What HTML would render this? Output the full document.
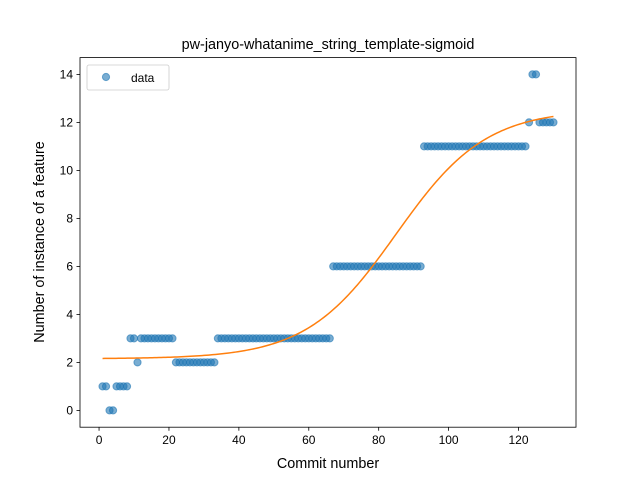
<!DOCTYPE html>
<html><head><meta charset="utf-8"><style>
body{margin:0;background:#fff}
svg text{font-family:"Liberation Sans","DejaVu Sans",sans-serif;fill:#000}
</style></head><body>
<svg id="chart" width="640" height="480" viewBox="0 0 640 480" xmlns="http://www.w3.org/2000/svg">
<rect x="0" y="0" width="640" height="480" fill="#fff"/>
<text x="328" y="49" text-anchor="middle" font-size="14.4">pw-janyo-whatanime_string_template-sigmoid</text>
<g id="plot"></g>
<rect x="80" y="57.6" width="496" height="369.6" fill="none" stroke="#000" stroke-width="0.8"/>
<g id="axes"></g>
<text x="328" y="468" text-anchor="middle" font-size="14.4">Commit number</text>
<text transform="translate(44,242) rotate(-90)" text-anchor="middle" font-size="14.4">Number of instance of a feature</text>
<g>
<rect x="87" y="65" width="82" height="25" rx="2" fill="#fff" fill-opacity="0.8" stroke="#ccc" stroke-width="0.8"/>
<circle cx="106" cy="77" r="3.6" fill="#1f77b4" fill-opacity="0.6" stroke="#1f77b4" stroke-opacity="0.6"/>
<text x="131" y="82" font-size="12">data</text>
</g>
</svg>
<script>
const yValues = [1,1,0,0,1,1,1,1,3,3,2,3,3,3,3,3,3,3,3,3,3,2,2,2,2,2,2,2,2,2,2,2,2,
3,3,3,3,3,3,3,3,3,3,3,3,3,3,3,3,3,3,3,3,3,3,3,3,3,3,3,3,3,3,3,3,3,
6,6,6,6,6,6,6,6,6,6,6,6,6,6,6,6,6,6,6,6,6,6,6,6,6,6,
11,11,11,11,11,11,11,11,11,11,11,11,11,11,11,11,11,11,11,11,11,11,11,11,11,11,11,11,11,11,
12,14,14,12,12,12,12,12];
const sigmoidParams = [10.4, 0.078, 85, 2.15]; // L, k, x0, b
const xTicks = [0,20,40,60,80,100,120];
const yTicks = [0,2,4,6,8,10,12,14];
const ns="http://www.w3.org/2000/svg";
const X0=80,X1=576,Y0=427.2,Y1=57.6;
const n=yValues.length;
const xmin=1-(n-1)*0.05, xmax=n+(n-1)*0.05;
const ymaxD=Math.max(...yValues), yminD=Math.min(...yValues);
const ymin=yminD-(ymaxD-yminD)*0.05, ymax=ymaxD+(ymaxD-yminD)*0.05;
const sx=v=>X0+(v-xmin)/(xmax-xmin)*(X1-X0);
const sy=v=>Y0-(v-ymin)/(ymax-ymin)*(Y0-Y1);
const plot=document.getElementById('plot'), axes=document.getElementById('axes');
function mk(t,a,p){const e=document.createElementNS(ns,t);for(const k in a)e.setAttribute(k,a[k]);p.appendChild(e);return e;}
yValues.forEach((v,i)=>{
 const c=mk('circle',{cx:sx(i+1),cy:sy(v),r:3.6,fill:'#1f77b4','fill-opacity':0.6,stroke:'#1f77b4','stroke-opacity':0.6,'stroke-width':1},plot);
 
 
});
const [L,k,x0,b]=sigmoidParams;
let d='';
for(let j=0;j<=200;j++){const x=1+(n-1)*j/200;const y=L/(1+Math.exp(-k*(x-x0)))+b;d+=(j?'L':'M')+sx(x).toFixed(2)+','+sy(y).toFixed(2);}
const line=mk('path',{d:d,fill:'none',stroke:'#ff7f0e','stroke-width':1.5},plot);


xTicks.forEach(t=>{
 const x=sx(t);
 mk('line',{x1:x,x2:x,y1:Y0,y2:Y0+3.5,stroke:'#000','stroke-width':0.8},axes);
 const tx=mk('text',{x:x,y:Y0+17,'text-anchor':'middle','font-size':12},axes);tx.textContent=t;
 
 
});
yTicks.forEach(t=>{
 const y=sy(t);
 mk('line',{x1:X0-3.5,x2:X0,y1:y,y2:y,stroke:'#000','stroke-width':0.8},axes);
 const tx=mk('text',{x:X0-7,y:y+4.3,'text-anchor':'end','font-size':12},axes);tx.textContent=t;
 
 
});
</script>
</body></html>
